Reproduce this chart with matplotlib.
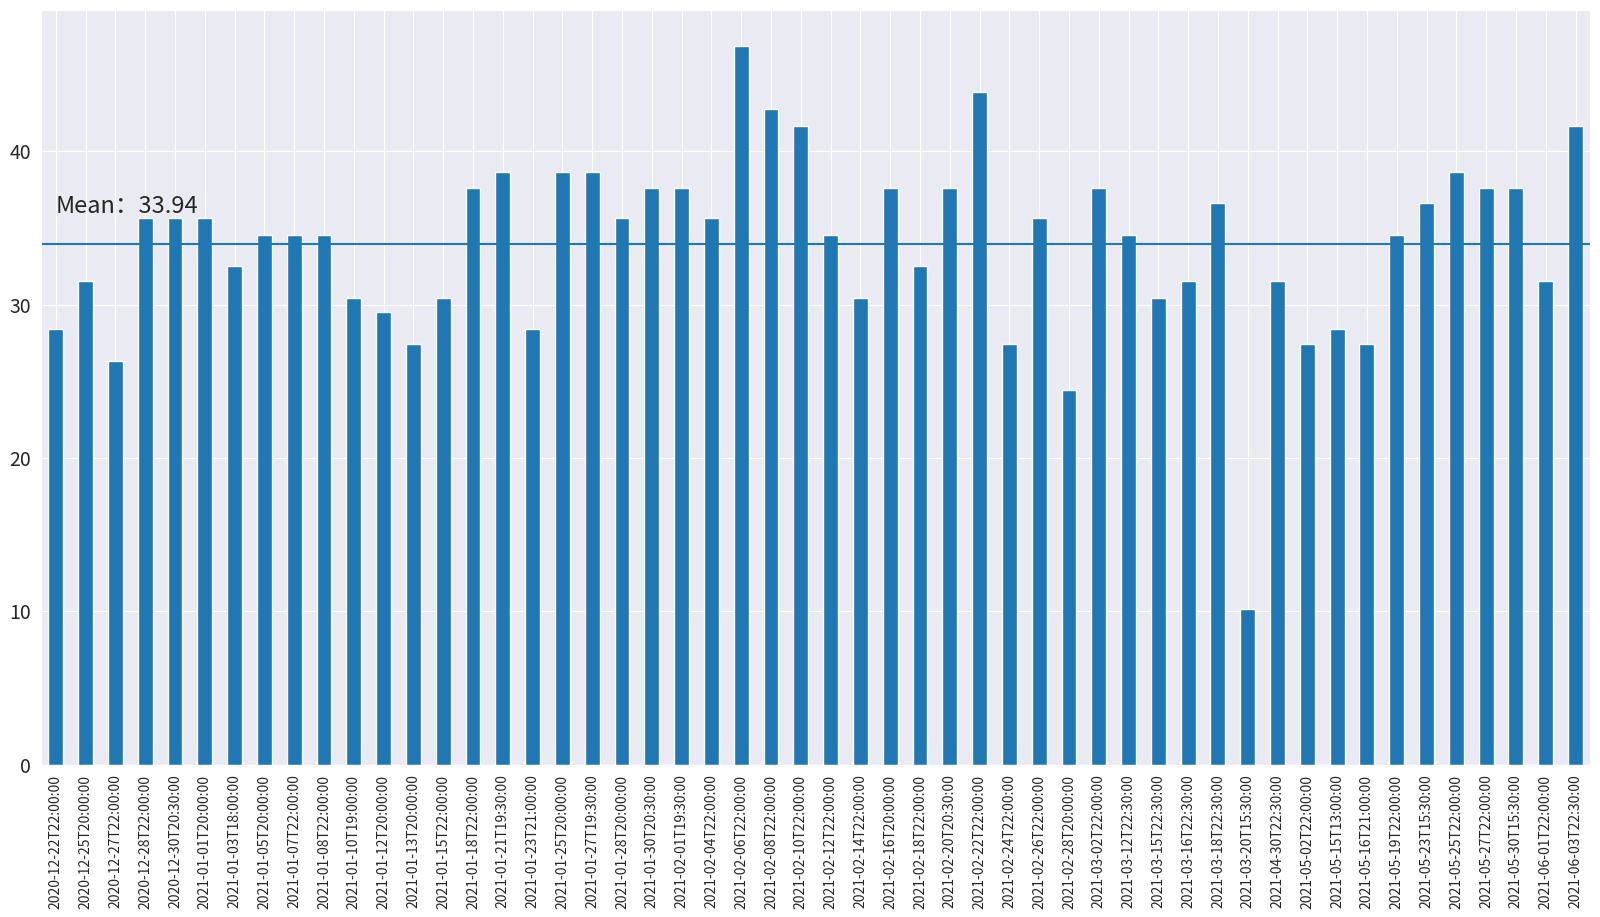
import numpy as np
import pandas as pd
import seaborn as sns
import matplotlib
matplotlib.use("Agg")
import matplotlib.pyplot as plt

sns.set_style("darkgrid")
plt.rcParams['font.family'] = ['Noto Sans CJK SC', 'DejaVu Sans']

dates = [
    "2020-12-22T22:00:00", "2020-12-25T20:00:00", "2020-12-27T22:00:00", "2020-12-28T22:00:00",
    "2020-12-30T20:30:00", "2021-01-01T20:00:00", "2021-01-03T18:00:00", "2021-01-05T20:00:00",
    "2021-01-07T22:00:00", "2021-01-08T22:00:00", "2021-01-10T19:00:00", "2021-01-12T20:00:00",
    "2021-01-13T20:00:00", "2021-01-15T22:00:00", "2021-01-18T22:00:00", "2021-01-21T19:30:00",
    "2021-01-23T21:00:00", "2021-01-25T20:00:00", "2021-01-27T19:30:00", "2021-01-28T20:00:00",
    "2021-01-30T20:30:00", "2021-02-01T19:30:00", "2021-02-04T22:00:00", "2021-02-06T22:00:00",
    "2021-02-08T22:00:00", "2021-02-10T22:00:00", "2021-02-12T22:00:00", "2021-02-14T22:00:00",
    "2021-02-16T20:00:00", "2021-02-18T22:00:00", "2021-02-20T20:30:00", "2021-02-22T22:00:00",
    "2021-02-24T22:00:00", "2021-02-26T22:00:00", "2021-02-28T20:00:00", "2021-03-02T22:00:00",
    "2021-03-12T22:30:00", "2021-03-15T22:30:00", "2021-03-16T22:30:00", "2021-03-18T22:30:00",
    "2021-03-20T15:30:00", "2021-04-30T22:30:00", "2021-05-02T22:00:00", "2021-05-15T13:00:00",
    "2021-05-16T21:00:00", "2021-05-19T22:00:00", "2021-05-23T15:30:00", "2021-05-25T22:00:00",
    "2021-05-27T22:00:00", "2021-05-30T15:30:00", "2021-06-01T22:00:00", "2021-06-03T22:30:00",
]

values = [
    28.43, 31.53, 26.33, 35.63, 35.63, 35.63, 32.53, 34.53, 34.53, 34.53,
    30.43, 29.53, 27.43, 30.43, 37.63, 38.63, 28.43, 38.63, 38.63, 35.63,
    37.63, 37.63, 35.63, 46.83, 42.73, 41.63, 34.53, 30.43, 37.63, 32.53,
    37.63, 43.83, 27.43, 35.63, 24.43, 37.63, 34.53, 30.43, 31.53, 36.63,
    10.13, 31.53, 27.43, 28.43, 27.43, 34.53, 36.63, 38.63, 37.63, 37.63,
    31.53, 41.63,
]

s = pd.Series(values, index=dates)
mean = s.mean()

fig = plt.figure(figsize=(16, 9.17), dpi=100)
ax = fig.add_axes([0.0256, 0.166, 0.9684, 0.823])
s.plot(kind="bar", ax=ax, color="#1f77b4")
ax.axhline(mean, color="#1f77b4", linewidth=1.5)
ax.text(0, 36.0, "Mean：%.2f" % mean, fontsize=17, color="#262626")

ax.set_ylim(0, 49.2)
ax.tick_params(axis="y", labelsize=14)
ax.tick_params(axis="x", labelsize=10)

fig.savefig("out.png", dpi=100)
